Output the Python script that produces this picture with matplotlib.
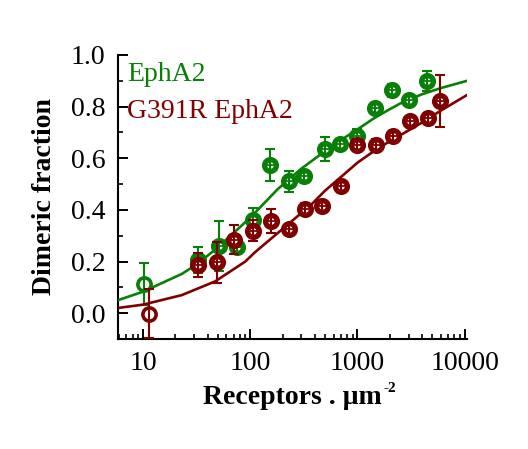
import matplotlib
matplotlib.use("Agg")
import matplotlib.pyplot as plt
from matplotlib.ticker import FixedLocator, MultipleLocator, LogLocator, NullFormatter, FormatStrFormatter

plt.rcParams['font.family'] = ['Liberation Serif', 'DejaVu Serif']

# ---- data ----
wt_x = [10.15, 32.3, 50.7, 75.1, 105.8, 153, 232, 314, 500, 690, 986, 1462, 2090, 3050, 4425]
wt_y = [0.113, 0.205, 0.261, 0.256, 0.362, 0.573, 0.511, 0.533, 0.636, 0.656, 0.688, 0.793, 0.864, 0.825, 0.899]
wt_err = [0.083, 0.05, 0.097, 0.02, 0.045, 0.061, 0.04, 0.02, 0.047, 0.02, 0.025, 0.02, 0.025, 0.02, 0.04]

mut_x = [11.3, 32.3, 48.9, 71, 107, 156, 231, 325, 466, 700, 986, 1483, 2160, 3100, 4520, 5890]
mut_y = [-0.003, 0.188, 0.197, 0.285, 0.32, 0.358, 0.326, 0.405, 0.414, 0.494, 0.653, 0.653, 0.686, 0.744, 0.757, 0.821]
mut_err = [0.095, 0.047, 0.08, 0.055, 0.042, 0.047, 0.02, 0.02, 0.02, 0.02, 0.02, 0.02, 0.02, 0.02, 0.02, 0.10]

wt_fit_x = [5.8, 10, 23, 32, 50, 100, 180, 300, 500, 760, 1000, 1450, 2000, 2500, 4000, 6000, 10500]
wt_fit_y = [0.050, 0.083, 0.152, 0.190, 0.255, 0.370, 0.480, 0.560, 0.628, 0.680, 0.712, 0.757, 0.790, 0.812, 0.848, 0.872, 0.900]

mut_fit_x = [5.8, 10, 23, 47, 90, 110, 180, 370, 500, 760, 1000, 1450, 1930, 3950, 6000, 10500]
mut_fit_y = [0.020, 0.033, 0.070, 0.123, 0.200, 0.235, 0.310, 0.420, 0.475, 0.540, 0.583, 0.630, 0.662, 0.737, 0.785, 0.845]

labels = ["EphA2", "G391R EphA2"]
colors = ["#088008", "#800000"]
xticks = [10, 100, 1000, 10000]
xticklabels = ["10", "100", "1000", "10000"]

fig = plt.figure(figsize=(5.28, 4.49), dpi=100)
ax = fig.add_axes([118/528, 1-339/449, (467-118)/528, (339-55)/449])

series = [(wt_x, wt_y, wt_err, wt_fit_x, wt_fit_y),
          (mut_x, mut_y, mut_err, mut_fit_x, mut_fit_y)]
for i, (x, y, e, fx, fy) in enumerate(series):
    c = colors[i]
    z = 3 + i * 3
    ax.plot(fx, fy, color=c, lw=1.9, zorder=z)
    ax.plot(x[:1], y[:1], 'o', ms=9.5, mfc='white', mec=c, mew=2.6, ls='none', zorder=z + 1)
    ax.plot(x[1:], y[1:], 'o', ms=8.5, mfc='white', mec=c, mew=3.8, ls='none', zorder=z + 1)
    ax.errorbar(x, y, yerr=e, fmt='none', ecolor=c, elinewidth=1.5,
                capsize=3.6, capthick=1.5, zorder=z + 2)
    ax.plot(x[1:], y[1:], '+', ms=5.5, mec=c, mew=1.3, ls='none', zorder=z + 2)

ax.set_xscale('log')
ax.set_xlim(5.85, 10500)
ax.set_ylim(-0.1, 1.0)

ax.xaxis.set_major_locator(FixedLocator(xticks))
ax.set_xticklabels(xticklabels)
ax.xaxis.set_minor_locator(LogLocator(base=10, subs=range(2, 10), numticks=20))
ax.xaxis.set_minor_formatter(NullFormatter())
ax.yaxis.set_major_locator(MultipleLocator(0.2))
ax.yaxis.set_minor_locator(MultipleLocator(0.1))
ax.yaxis.set_major_formatter(FormatStrFormatter('%.1f'))

for s in ['top', 'right']:
    ax.spines[s].set_visible(False)
for s in ['left', 'bottom']:
    ax.spines[s].set_linewidth(1.5)

ax.tick_params(which='major', direction='in', length=7, width=1.4, labelsize=20, pad=9)
ax.tick_params(which='minor', direction='in', length=3.5, width=1.2)

ax.set_ylabel("Dimeric fraction", fontsize=20, fontweight='bold', labelpad=10)
xl = ax.set_xlabel("Receptors . μm", fontsize=20, fontweight='bold', labelpad=6)
ax.annotate("-2", xy=(1, 1), xycoords=xl, xytext=(1, -3), textcoords='offset points',
            fontsize=11, fontweight='bold', ha='left', va='center')

ax.text(0.025, 0.975, labels[0], transform=ax.transAxes, color=colors[0],
        fontsize=20, va='top', ha='left')
ax.text(0.025, 0.845, labels[1], transform=ax.transAxes, color=colors[1],
        fontsize=20, va='top', ha='left')

fig.savefig("out.png", dpi=100)
